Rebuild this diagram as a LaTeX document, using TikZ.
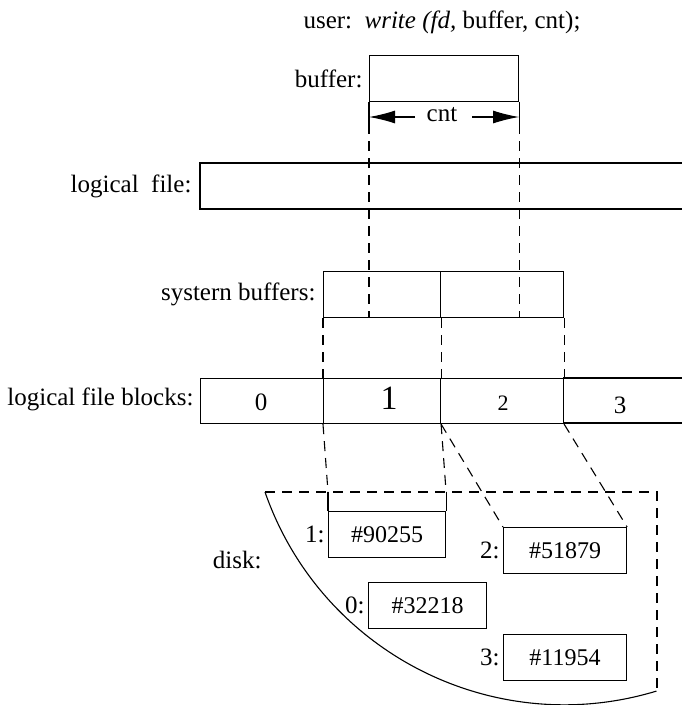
\documentclass[tikz,border=0pt]{standalone}
\usepackage{fontspec}
\setmainfont{Liberation Serif}
\usetikzlibrary{arrows.meta}
\begin{document}
\begin{tikzpicture}[x=1pt,y=-1pt,line width=1.1pt,
  lbl/.style={anchor=east,inner sep=0pt,font=\fontsize{25}{28}\selectfont},
  txt/.style={inner sep=0pt,font=\fontsize{25}{28}\selectfont},
  box/.style={draw,rectangle,inner sep=0pt,anchor=north west,font=\fontsize{24}{28}\selectfont},
  dsh/.style={dash pattern=on 10pt off 7pt},
  arr/.style={-{Latex[length=26pt,width=13pt]}}]
\useasboundingbox (0,0) rectangle (682,705);

% title
\node[txt] (title) at (442,22) {user:\ \ \textit{write (fd,} buffer, cnt);};

% buffer
\node[box,minimum width=149pt,minimum height=46pt] (buf) at (369,55) {};
\node[lbl] (buflbl) at (363,79) {buffer:};
\draw (buf.south west) -- ++(0,22) coordinate (bl);
\draw (buf.south east) -- ++(0,22) coordinate (br);
\node[txt] (cnt) at (442,115) {cnt};
\coordinate (cntl) at (415,117);
\coordinate (cntr) at (472,117);
\draw[arr] (cntl) -- (bl |- cntl);
\draw[arr] (cntr) -- (br |- cntr);

% logical file
\node[lbl] (lflbl) at (192,186) {logical\ \ file:};
\draw (682,163) -- (200,163) -- (200,209) -- (682,209);

% system buffers
\node[box,minimum width=117pt,minimum height=46pt] (sb1) at (323,271) {};
\node[box,minimum width=123pt,minimum height=46pt] (sb2) at (440,271) {};
\node[lbl] (sblbl) at (316,294) {systern buffers:};

\draw[dsh] (bl) -- (bl |- sb1.south);
\draw[dsh] (br) -- (br |- sb2.south);

% logical file blocks
\node[box,minimum width=123pt,minimum height=45pt] (c0) at (200,378) {};
\node[box,minimum width=117pt,minimum height=45pt] (c1) at (323,378) {};
\node[box,minimum width=123pt,minimum height=45pt] (c2) at (440,378) {};
\draw (682,378) -- (563,378) (563,423) -- (682,423);
\node[lbl] (cblbl) at (194,399) {logical file blocks:};
\node[txt] (n0) at (261,402) {0};
\node[txt,font=\fontsize{34}{36}\selectfont] (n1) at (389,398) {1};
\node[txt,font=\fontsize{22}{24}\selectfont] (n2) at (503,403) {2};
\node[txt] (n3) at (620,405) {3};

\draw[dsh] (sb1.south west) -- (c1.north west);
\draw[dsh] (sb1.south east) -- (c1.north east);
\draw[dsh] (sb2.south east) -- (c2.north east);

% disk
\coordinate (dtl) at (265,492);
\coordinate (dtr) at (657,492);
\coordinate (dbr) at (657,691);
\draw[dsh] (dtl) -- (dtr) -- (dbr);
\draw (dtl) arc[start angle=160.8,end angle=73.1,radius=317];
\node[lbl] (disklbl) at (262,560) {disk:};

\node[box,minimum width=117pt,minimum height=46pt] (d1) at (328,511) {\#90255};
\node[box,minimum width=123pt,minimum height=46pt] (d2) at (503,527) {\#51879};
\node[box,minimum width=118pt,minimum height=46pt] (d0) at (368,582) {\#32218};
\node[box,minimum width=123pt,minimum height=46pt] (d3) at (503,634) {\#11954};
\node[lbl,xshift=-3pt] (l1) at (d1.west) {1:};
\node[lbl,xshift=-3pt] (l2) at (d2.west) {2:};
\node[lbl,xshift=-3pt] (l0) at (d0.west) {0:};
\node[lbl,xshift=-3pt] (l3) at (d3.west) {3:};

\coordinate (d1l) at (d1.north west |- dtl);
\coordinate (d1r) at (d1.north east |- dtl);
\draw[dsh] (c1.south west) -- (d1l);
\draw[dsh] (c1.south east) -- (d1r);
\draw (d1l) -- (d1.north west);
\draw (d1r) -- (d1.north east);
\draw[dsh] (c1.south east) -- (d2.north west);
\draw[dsh] (c2.south east) -- (d2.north east);
\end{tikzpicture}
\end{document}
